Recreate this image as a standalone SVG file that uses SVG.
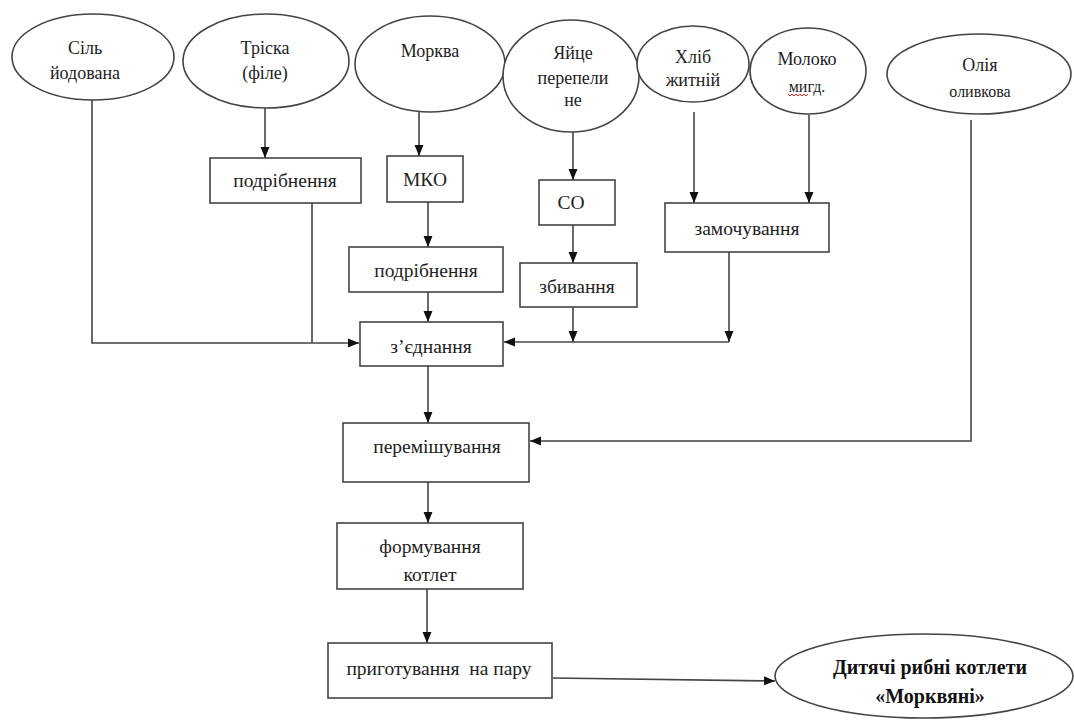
<svg xmlns="http://www.w3.org/2000/svg" width="1074" height="720" viewBox="0 0 1074 720">
<style>
  .node ellipse, .node rect { fill: #fff; stroke: #444; stroke-width: 1.6; }
  text { font-family: 'Liberation Serif', 'DejaVu Serif', serif; fill: #222; text-anchor: middle; }
  .e { font-size: 18px; }
  .b { font-size: 19.5px; }
  .f { font-size: 20px; font-weight: bold; fill: #111; }
  #connectors path { fill: none; stroke: #444; stroke-width: 1.6; }
</style>
<defs>
  <marker id="arr" markerUnits="userSpaceOnUse" markerWidth="12" markerHeight="12" viewBox="0 0 12 12" refX="11" refY="6" orient="auto">
    <path d="M0,1.5 L11,6 L0,10.5 Z" fill="#111"/>
  </marker>
</defs>
<rect width="1074" height="720" fill="#fff"/>

<g id="connectors">
  <path d="M92,100 V343 H359" marker-end="url(#arr)"/>
  <path d="M312,203 V343"/>
  <path d="M265,108 V158" marker-end="url(#arr)"/>
  <path d="M419,112 V156" marker-end="url(#arr)"/>
  <path d="M428,202 V247" marker-end="url(#arr)"/>
  <path d="M428,292 V322" marker-end="url(#arr)"/>
  <path d="M573,132 V180" marker-end="url(#arr)"/>
  <path d="M573,225 V263" marker-end="url(#arr)"/>
  <path d="M573,307 V342" marker-end="url(#arr)"/>
  <path d="M729,252 V342" marker-end="url(#arr)"/>
  <path d="M729,342 H504" marker-end="url(#arr)"/>
  <path d="M694,112 V203" marker-end="url(#arr)"/>
  <path d="M809,115 V203" marker-end="url(#arr)"/>
  <path d="M428,366 V423" marker-end="url(#arr)"/>
  <path d="M971,120 V441 H530" marker-end="url(#arr)"/>
  <path d="M428,482 V523" marker-end="url(#arr)"/>
  <path d="M427,589 V643" marker-end="url(#arr)"/>
  <path d="M553,678 L775,681" marker-end="url(#arr)"/>
</g>

<g id="n-sil" class="node">
  <ellipse cx="93" cy="57" rx="81" ry="43"/>
  <text class="e" x="85" y="54" font-family="Liberation Serif, serif">Сіль</text>
  <text class="e" x="85" y="79">йодована</text>
</g>
<g id="n-triska" class="node">
  <ellipse cx="266" cy="61" rx="83" ry="47"/>
  <text class="e" x="265" y="54">Тріска</text>
  <text class="e" x="265" y="79">(філе)</text>
</g>
<g id="n-morkva" class="node">
  <ellipse cx="430" cy="64" rx="75" ry="48"/>
  <text class="e" x="430" y="57">Морква</text>
</g>
<g id="n-yaitse" class="node">
  <ellipse cx="571" cy="76" rx="68" ry="56"/>
  <text class="e" x="573" y="59">Яйце</text>
  <text class="e" x="573" y="84">перепели</text>
  <text class="e" x="573" y="106">не</text>
</g>
<g id="n-khlib" class="node">
  <ellipse cx="693" cy="64" rx="56" ry="38"/>
  <text class="e" x="693" y="63">Хліб</text>
  <text class="e" x="693" y="86">житній</text>
</g>
<g id="n-moloko" class="node">
  <ellipse cx="808" cy="71" rx="58" ry="43"/>
  <text class="e" x="807" y="65">Молоко</text>
  <text class="e" x="807" y="92" style="font-size:16px">мигд.</text>
  <path d="M788,94 l2,2 l2,-2 l2,2 l2,-2 l2,2 l2,-2 l2,2 l2,-2 l2,2 l2,-2" fill="none" stroke="#d22" stroke-width="1"/>
</g>
<g id="n-oliya" class="node">
  <ellipse cx="979" cy="74" rx="92" ry="40"/>
  <text class="e" x="980" y="71">Олія</text>
  <text class="e" x="980" y="97" style="font-size:16px">оливкова</text>
</g>

<g id="n-podribnennya1" class="node">
  <rect x="210" y="158" width="151" height="45"/>
  <text class="b" x="285" y="187">подрібнення</text>
</g>
<g id="n-mko" class="node">
  <rect x="387" y="156" width="76" height="46"/>
  <text class="b" x="425" y="186">МКО</text>
</g>
<g id="n-so" class="node">
  <rect x="539" y="180" width="76" height="45"/>
  <text class="b" x="571" y="209">СО</text>
</g>
<g id="n-zamochuvannya" class="node">
  <rect x="665" y="203" width="164" height="49"/>
  <text class="b" x="747" y="235">замочування</text>
</g>
<g id="n-podribnennya2" class="node">
  <rect x="349" y="247" width="154" height="45"/>
  <text class="b" x="426" y="277">подрібнення</text>
</g>
<g id="n-zbyvannya" class="node">
  <rect x="520" y="263" width="117" height="44"/>
  <text class="b" x="577" y="293">збивання</text>
</g>
<g id="n-zyednannya" class="node">
  <rect x="360" y="322" width="143" height="44"/>
  <text class="b" x="431" y="353">з’єднання</text>
</g>
<g id="n-peremishuvannya" class="node">
  <rect x="343" y="423" width="186" height="59"/>
  <text class="b" x="437" y="453">перемішування</text>
</g>
<g id="n-formuvannya" class="node">
  <rect x="337" y="523" width="186" height="66"/>
  <text class="b" x="430" y="553">формування</text>
  <text class="b" x="430" y="581">котлет</text>
</g>
<g id="n-pryhotuvannya" class="node">
  <rect x="328" y="643" width="224" height="55"/>
  <text class="b" x="439" y="675" xml:space="preserve">приготування  на пару</text>
</g>
<g id="n-result" class="node">
  <ellipse cx="924" cy="676" rx="149" ry="42"/>
  <text class="f" x="930" y="674">Дитячі рибні котлети</text>
  <text class="f" x="930" y="703">«Морквяні»</text>
</g>
</svg>
